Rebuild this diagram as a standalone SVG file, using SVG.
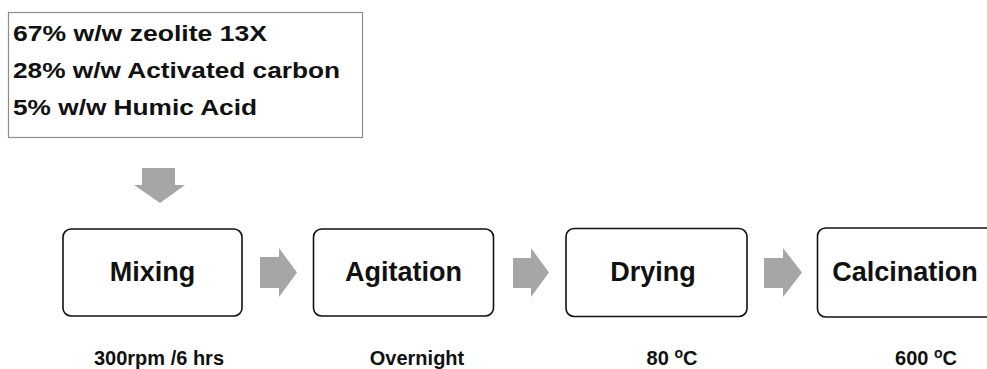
<svg xmlns="http://www.w3.org/2000/svg" width="987" height="369" viewBox="0 0 987 369">
  <defs>
    <style>
      .txt { font-family: "Liberation Sans", Arial, sans-serif; font-weight: bold; fill: #111; }
      .mix { font-size: 22.5px; }
      .step { fill: #fff; stroke: #111; stroke-width: 1.6; }
      .label { font-size: 27px; text-anchor: middle; }
      .cond { font-size: 20px; text-anchor: middle; }
      .arrow { fill: #a6a6a6; }
    </style>
  </defs>
  <rect width="987" height="369" fill="#fff"/>

  <!-- Composition box -->
  <g id="composition">
    <rect x="8.5" y="12.5" width="354" height="125" fill="#fff" stroke="#8c8c8c" stroke-width="1.2"/>
    <text class="txt mix" x="13" y="41" textLength="254" lengthAdjust="spacingAndGlyphs">67% w/w zeolite 13X</text>
    <text class="txt mix" x="13" y="78" textLength="327" lengthAdjust="spacingAndGlyphs">28% w/w Activated carbon</text>
    <text class="txt mix" x="13" y="115" textLength="244" lengthAdjust="spacingAndGlyphs">5% w/w Humic Acid</text>
  </g>

  <!-- Block arrows between stages -->
  <g id="connectors">
    <polygon class="arrow" points="142,168 175,168 175,185 185,185 160,203 134,185 142,185"/>
    <polygon class="arrow" points="260,257 279,257 279,248 297,272.5 279,297 279,288 260,288"/>
    <polygon class="arrow" points="513,258 531,258 531,248 549,272.5 531,297 531,288 513,288"/>
    <polygon class="arrow" points="764,258 783,258 783,248 802,272.5 783,297 783,288 764,288"/>
  </g>

  <!-- Process stages -->
  <g id="mixing">
    <rect class="step" x="63" y="229" width="179" height="87" rx="8"/>
    <text class="txt label" x="152.5" y="281">Mixing</text>
    <text class="txt cond" x="159" y="365">300rpm /6 hrs</text>
  </g>
  <g id="agitation">
    <rect class="step" x="313.5" y="229" width="180" height="87" rx="8"/>
    <text class="txt label" x="403.5" y="281">Agitation</text>
    <text class="txt cond" x="417" y="365">Overnight</text>
  </g>
  <g id="drying">
    <rect class="step" x="566" y="228.5" width="181" height="88" rx="8"/>
    <text class="txt label" x="653" y="281">Drying</text>
    <text class="txt cond" x="672" y="365">80 <tspan font-size="14" dy="-7">o</tspan><tspan dy="7">C</tspan></text>
  </g>
  <g id="calcination">
    <rect class="step" x="817.5" y="228" width="182" height="89" rx="8"/>
    <text class="txt label" x="905" y="281">Calcination</text>
    <text class="txt cond" x="926" y="365">600 <tspan font-size="14" dy="-7">o</tspan><tspan dy="7">C</tspan></text>
  </g>
</svg>
